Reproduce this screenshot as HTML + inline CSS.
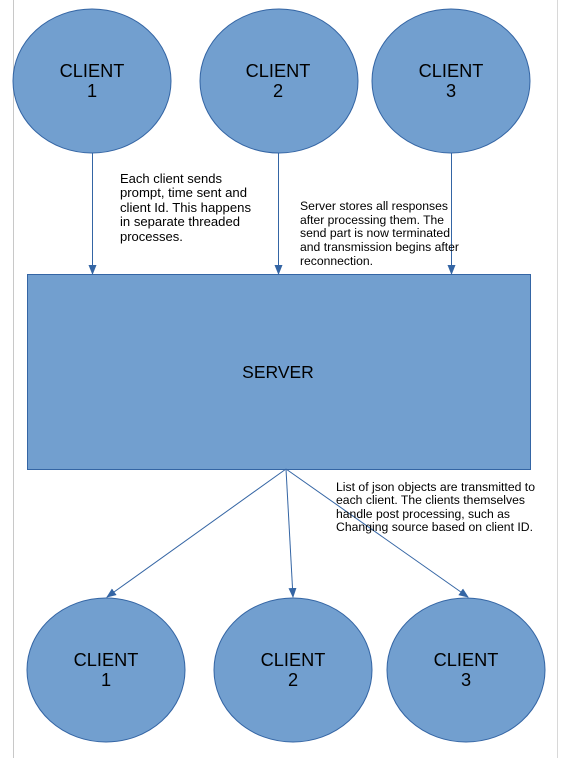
<!DOCTYPE html>
<html><head><meta charset="utf-8"><style>html,body{margin:0;padding:0;background:#fff}svg{display:block}</style></head>
<body>
<svg width="564" height="758" viewBox="0 0 564 758" xmlns="http://www.w3.org/2000/svg" font-family="Liberation Sans, sans-serif">
<defs><marker id="a" markerWidth="10" markerHeight="10" refX="9" refY="5" orient="auto" markerUnits="userSpaceOnUse"><path d="M0,1 L10,5 L0,9 Z" fill="#3465a4"/></marker></defs>
<line x1="13.5" y1="0" x2="13.5" y2="758" stroke="#c8c8c8" stroke-width="1"/>
<line x1="557.5" y1="0" x2="557.5" y2="758" stroke="#d8d8d8" stroke-width="1"/>
<g fill="#729fcf" stroke="#3465a4" stroke-width="1">
<ellipse cx="92" cy="81" rx="79" ry="72"/>
<ellipse cx="279" cy="81" rx="79" ry="72"/>
<ellipse cx="451" cy="81" rx="79" ry="72"/>
<rect x="27.5" y="274.5" width="503" height="195"/>
<ellipse cx="106" cy="670" rx="79" ry="72"/>
<ellipse cx="293" cy="670" rx="79" ry="72"/>
<ellipse cx="466" cy="670" rx="79" ry="72"/>
</g>
<g stroke="#3465a4" stroke-width="1" fill="none" marker-end="url(#a)">
<line x1="92.5" y1="153" x2="92.5" y2="274"/>
<line x1="278.5" y1="153" x2="278.5" y2="274"/>
<line x1="451.5" y1="153" x2="451.5" y2="274"/>
<line x1="286" y1="469" x2="107" y2="597"/>
<line x1="286" y1="469" x2="293" y2="597"/>
<line x1="286" y1="469" x2="468" y2="597"/>
</g>
<g font-size="18.2" fill="#000" text-anchor="middle">
<text x="92" y="77">CLIENT</text><text x="92" y="97">1</text>
<text x="278" y="77">CLIENT</text><text x="278" y="97">2</text>
<text x="451" y="77">CLIENT</text><text x="451" y="97">3</text>
<text x="278" y="378" font-size="17.5">SERVER</text>
<text x="106" y="666">CLIENT</text><text x="106" y="686">1</text>
<text x="293" y="666">CLIENT</text><text x="293" y="686">2</text>
<text x="466" y="666">CLIENT</text><text x="466" y="686">3</text>
</g>
<g font-size="13" fill="#000">
<text x="120" y="183" textLength="102" lengthAdjust="spacingAndGlyphs">Each client sends</text>
<text x="120" y="197" textLength="127" lengthAdjust="spacingAndGlyphs">prompt, time sent and</text>
<text x="120" y="212" textLength="131" lengthAdjust="spacingAndGlyphs">client Id. This happens</text>
<text x="120" y="226" textLength="120" lengthAdjust="spacingAndGlyphs">in separate threaded</text>
<text x="120" y="241">processes.</text>
</g>
<g font-size="12.3" fill="#000">
<text x="300" y="210" textLength="148" lengthAdjust="spacingAndGlyphs">Server stores all responses</text>
<text x="300" y="224" textLength="144" lengthAdjust="spacingAndGlyphs">after processing them. The</text>
<text x="300" y="237" textLength="150" lengthAdjust="spacingAndGlyphs">send part is now terminated</text>
<text x="300" y="251" textLength="159" lengthAdjust="spacingAndGlyphs">and transmission begins after</text>
<text x="300" y="265" textLength="73" lengthAdjust="spacingAndGlyphs">reconnection.</text>
<text x="336" y="491" textLength="199" lengthAdjust="spacingAndGlyphs">List of json objects are transmitted to</text>
<text x="336" y="504" textLength="189" lengthAdjust="spacingAndGlyphs">each client. The clients themselves</text>
<text x="336" y="518" textLength="174" lengthAdjust="spacingAndGlyphs">handle post processing, such as</text>
<text x="336" y="531" textLength="197" lengthAdjust="spacingAndGlyphs">Changing source based on client ID.</text>
</g>
</svg>
</body></html>
